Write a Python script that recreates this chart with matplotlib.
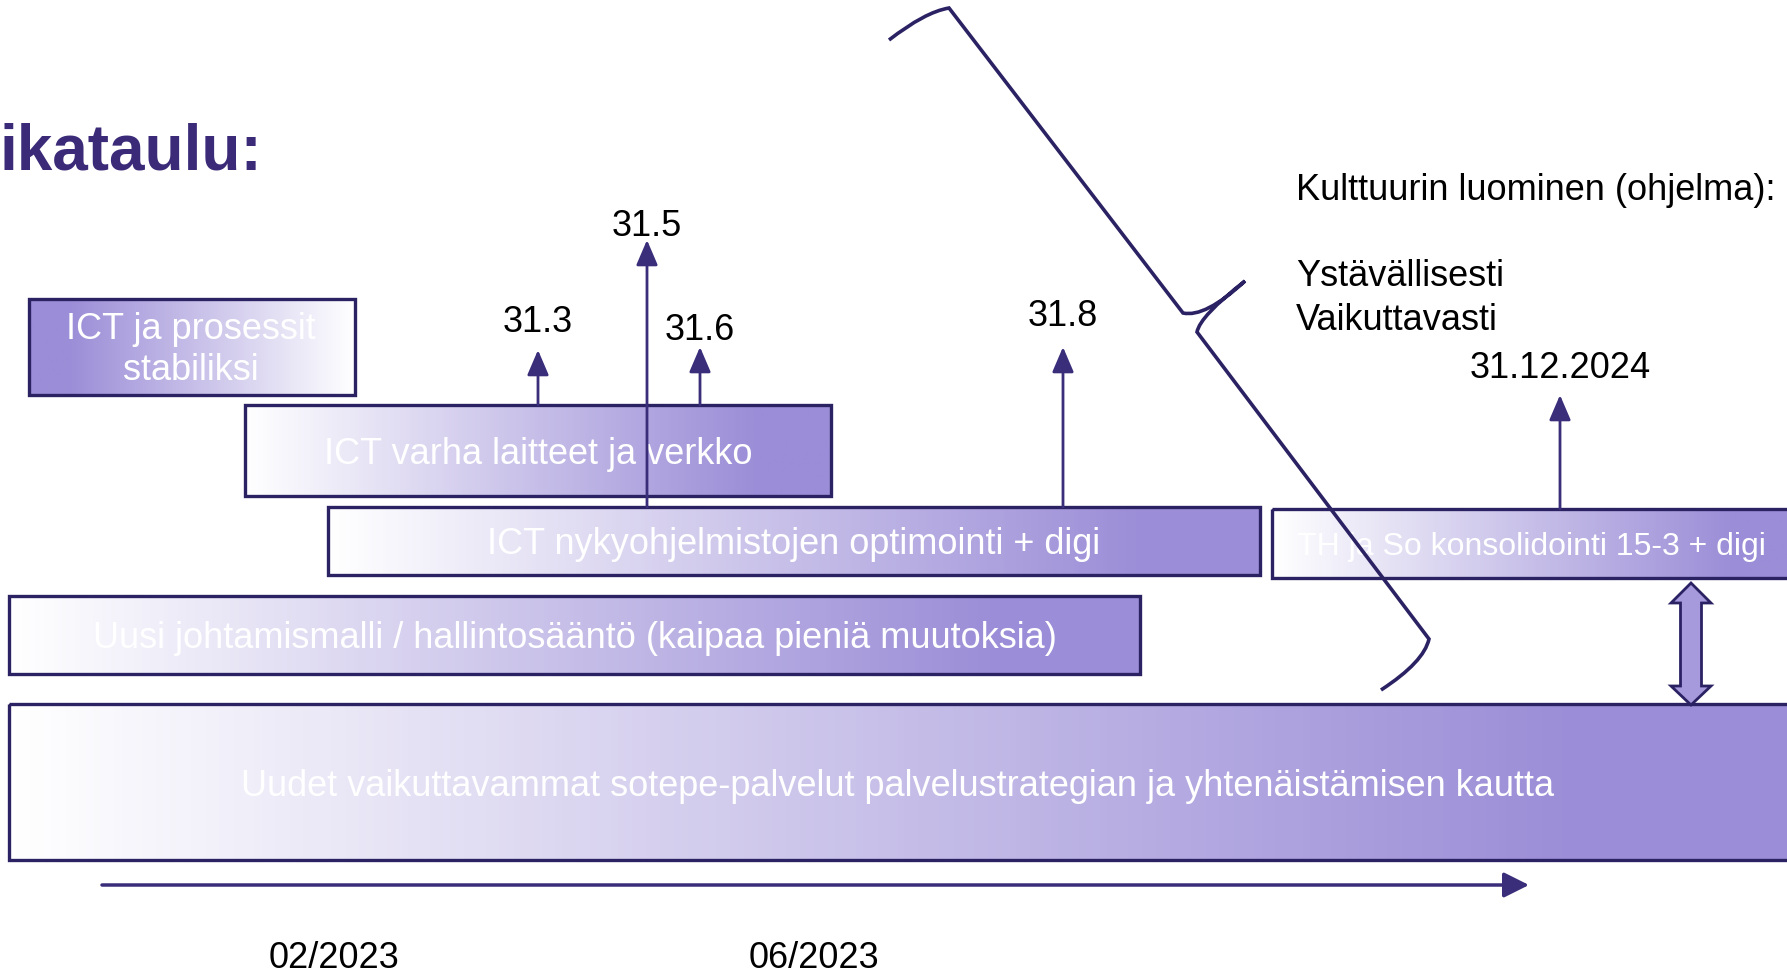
import numpy as np
import matplotlib.pyplot as plt
from matplotlib.colors import LinearSegmentedColormap
from matplotlib.patches import Rectangle, Polygon, PathPatch
from matplotlib.path import Path

plt.rcParams['font.family'] = ['Liberation Sans', 'DejaVu Sans']

DARK = '#2b2264'
LINE = '#3a2d7a'
PURPLE = '#9b8dd7'

# phases of the timeline
box_labels = [
    "ICT ja prosessit\nstabiliksi",
    "ICT varha laitteet ja verkko",
    "ICT nykyohjelmistojen optimointi + digi",
    "Uusi johtamismalli / hallintosääntö (kaipaa pieniä muutoksia)",
    "Uudet vaikuttavammat sotepe-palvelut palvelustrategian ja yhtenäistämisen kautta",
    "TH ja So konsolidointi 15-3 + digi",
]
box_x = [(29, 355), (245, 831), (328, 1260), (9, 1140), (9, 1800), (1272, 1800)]
box_y = [(299, 395), (405, 496), (507, 575), (596, 674), (704, 860), (509, 578)]
box_reversed = [True, False, False, False, False, False]
box_centres = [(191, 350), (538, 454), (794, 544), (575, 638), (898, 787), (1531, 547)]
box_fontsize = [26, 26, 26, 26, 26, 23]

# milestones (label, x, arrow base, arrow tip, label y)
milestone_labels = ["31.3", "31.5", "31.6", "31.8", "31.12.2024"]
milestone_x = [538, 647, 700, 1063, 1560]
milestone_base = [405, 507, 405, 507, 509]
milestone_tip = [350, 240, 347, 347, 395]
milestone_label_y = [322, 227, 330, 317, 369]

date_labels = ["02/2023", "06/2023"]
date_x = [334, 814]

culture_lines = ["Kulttuurin luominen (ohjelma):", "Ystävällisesti", "Vaikuttavasti"]
culture_y = [190, 277, 320]


def main():
    fig = plt.figure(figsize=(17.87, 9.73), dpi=100)
    ax = fig.add_axes([0, 0, 1, 1])
    ax.axis('off')

    cmap = LinearSegmentedColormap.from_list('wp', ['#ffffff', PURPLE])
    ramp = np.clip(np.linspace(0, 1, 256) / 0.88, 0, 1)

    for (x0, x1), (y0, y1), rev in zip(box_x, box_y, box_reversed):
        grad = ramp[::-1] if rev else ramp
        img = ax.imshow(grad[np.newaxis, :], cmap=cmap, vmin=0, vmax=1,
                        extent=(x0, x1, y1, y0), aspect='auto', zorder=1)
        rect = Rectangle((x0, y0), x1 - x0, y1 - y0, facecolor='none',
                         edgecolor=DARK, linewidth=2.4, zorder=2)
        ax.add_patch(rect)
        img.set_clip_path(rect)

    for label, (cx, cy), fs in zip(box_labels, box_centres, box_fontsize):
        ax.text(cx, cy, label, ha='center', va='center', color='white',
                fontsize=fs, linespacing=1.25, zorder=3)

    for label, x, base, tip, ly in zip(milestone_labels, milestone_x, milestone_base,
                                      milestone_tip, milestone_label_y):
        ax.annotate('', xy=(x, tip), xytext=(x, base),
                    arrowprops=dict(arrowstyle='-|>,head_length=0.7,head_width=0.3',
                                    color=LINE, lw=2, shrinkA=0, shrinkB=0,
                                    mutation_scale=22), zorder=4)
        ax.text(x, ly, label, ha='center', va='center', fontsize=26, color='black')

    # timeline arrow
    ax.annotate('', xy=(1529, 885), xytext=(102, 885),
                arrowprops=dict(arrowstyle='-|>,head_length=0.7,head_width=0.35',
                                color=LINE, lw=2.5, shrinkA=0, shrinkB=0,
                                mutation_scale=22), zorder=4)
    for label, x in zip(date_labels, date_x):
        ax.text(x, 958, label, ha='center', va='center', fontsize=26, color='black')

    # brace
    verts = [(889, 40), (925, 12), (949, 8), (1183, 313), (1205, 318), (1245, 281),
             (1200, 316), (1197, 332), (1429, 639), (1424, 662), (1381, 690)]
    codes = [Path.MOVETO, Path.CURVE3, Path.CURVE3, Path.LINETO, Path.CURVE3, Path.CURVE3,
             Path.CURVE3, Path.CURVE3, Path.LINETO, Path.CURVE3, Path.CURVE3]
    ax.add_patch(PathPatch(Path(verts, codes), facecolor='none', edgecolor=DARK,
                           linewidth=2.6, zorder=5))

    # double arrow between TH box and big box
    cx = 1691
    pts = [(cx, 583), (cx + 20, 603), (cx + 10.5, 603), (cx + 10.5, 686), (cx + 20, 686),
           (cx, 705), (cx - 20, 686), (cx - 10.5, 686), (cx - 10.5, 603), (cx - 20, 603)]
    ax.add_patch(Polygon(pts, closed=True, facecolor='#a699dc', edgecolor=DARK,
                         linewidth=2, zorder=5))

    # title and culture text
    ax.text(0, 169, "ikataulu:", ha='left', va='baseline', fontsize=46,
            fontweight='bold', color='#3b2a78')
    for line, y in zip(culture_lines, culture_y):
        ax.text(1296, y, line, ha='left', va='center', fontsize=26, color='black')

    ax.set_xlim(0, 1787)
    ax.set_ylim(973, 0)
    fig.savefig('out.png', dpi=100)
    plt.close(fig)


if __name__ == "__main__":
    main()
